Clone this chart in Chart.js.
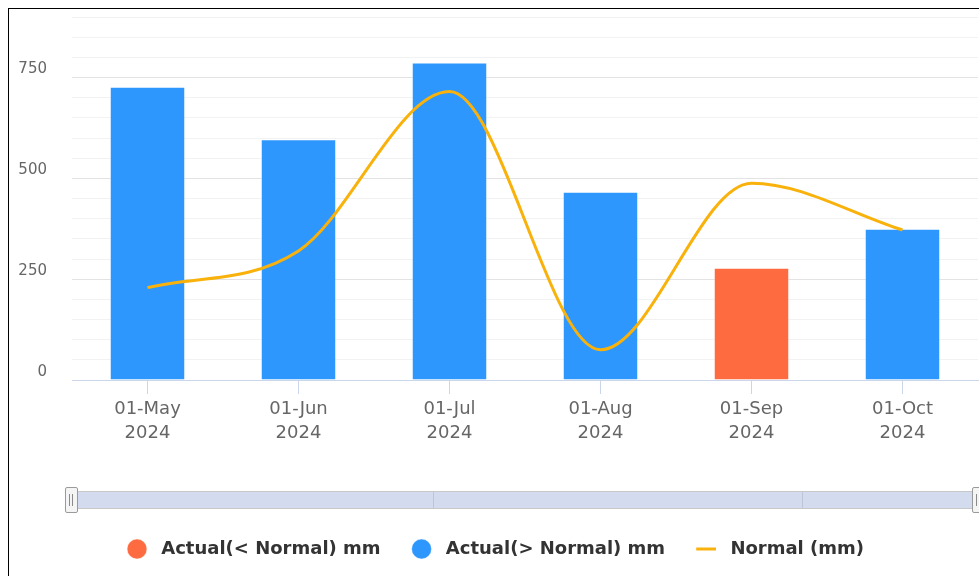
<!DOCTYPE html>
<html>
<head>
<meta charset="utf-8">
<script src="https://cdn.jsdelivr.net/npm/chart.js@4.4.1/dist/chart.umd.min.js"></script>
<style>
    html, body { margin: 0; padding: 0; background: #ffffff; }
    #wrap { position: relative; width: 979px; height: 576px; overflow: hidden; }
    #frame { position: absolute; left: 8px; top: 8px; width: 1000px; height: 600px; border: 1px solid #000; }
    .nav-track { position: absolute; left: 72px; top: 491px; width: 907px; height: 16px;
        background: #d3dcee; border-top: 1px solid #c8c8c8; border-bottom: 1px solid #c8c8c8; }
    .nav-div { position: absolute; top: 0; width: 1px; height: 16px; background: #bcc5da; }
    .nav-handle { position: absolute; top: 487px; width: 11px; height: 24px; background: #f4f4f4;
        border: 1px solid #9a9a9a; border-radius: 2px; }
    .nav-handle::before, .nav-handle::after { content: ''; position: absolute; top: 6px; width: 1px; height: 12px; background: #8a8a8a; }
    .nav-handle::before { left: 3px; }
    .nav-handle::after { left: 6px; }
</style>
</head>
<body>
<div id="wrap">
    <canvas id="rainChart"></canvas>
    <div id="frame"></div>
    <div class="nav-track">
        <div class="nav-div" style="left: 361px;"></div>
        <div class="nav-div" style="left: 730px;"></div>
    </div>
    <div class="nav-handle" style="left: 65px;"></div>
    <div class="nav-handle" style="left: 972px;"></div>
</div>
<script>
// --- Dados ---
const months = ['01-May', '01-Jun', '01-Jul', '01-Aug', '01-Sep', '01-Oct'];
const years = ['2024', '2024', '2024', '2024', '2024', '2024'];
const actualMm = [727, 597, 787, 467, 278, 375];
const normalMm = [229, 320, 715, 75, 488, 372];

// split actual values into below / above normal
const belowNormal = actualMm.map((v, i) => v < normalMm[i] ? v : null);
const aboveNormal = actualMm.map((v, i) => v >= normalMm[i] ? v : null);

Chart.defaults.font.family = '"DejaVu Sans", sans-serif';
Chart.defaults.color = '#666666';

// legend sits a little right of centre in the original
const legendShift = {
    id: 'legendShift',
    afterLayout(chart) {
        chart.legend.left += 7;
        chart.legend.right += 7;
    }
};

const ctx = document.getElementById('rainChart').getContext('2d');
const rainChart = new Chart(ctx, {
    type: 'bar',
    data: {
        labels: months.map((m, i) => [m, years[i]]),
        datasets: [{
            label: 'Actual(< Normal) mm',
            data: belowNormal,
            backgroundColor: '#fe6b40',
            borderColor: 'rgba(255,255,255,0.35)',
            borderWidth: 1,
            categoryPercentage: 1,
            barPercentage: 0.5,
            order: 1
        }, {
            label: 'Actual(> Normal) mm',
            data: aboveNormal,
            backgroundColor: '#2e97fd',
            borderColor: 'rgba(255,255,255,0.35)',
            borderWidth: 1,
            categoryPercentage: 1,
            barPercentage: 0.5,
            order: 1
        }, {
            type: 'line',
            label: 'Normal (mm)',
            data: normalMm,
            borderColor: '#f9b20c',
            backgroundColor: '#f9b20c',
            borderWidth: 3,
            pointRadius: 0,
            pointStyle: 'line',
            cubicInterpolationMode: 'monotone',
            fill: false,
            order: 0
        }]
    },
    options: {
        responsive: true,
        maintainAspectRatio: false,
        animation: false,
        layout: { padding: { top: 17, right: 1, left: 0, bottom: 8 } },
        plugins: {
            tooltip: { enabled: false },
            legend: {
                position: 'bottom',
                labels: {
                    usePointStyle: true,
                    boxHeight: 14,
                    padding: 32,
                    color: '#333333',
                    font: { size: 18, weight: 'bold' },
                    sort: (a, b) => a.datasetIndex - b.datasetIndex,
                    // small gap between symbol and text, like the original
                    generateLabels: (chart) => Chart.defaults.plugins.legend.labels.generateLabels(chart)
                        .map(l => ({ ...l, text: ' ' + l.text }))
                }
            }
        },
        scales: {
            x: {
                stacked: true,
                border: { color: '#ccd6eb', width: 1 },
                grid: { drawOnChartArea: false, drawTicks: true, tickLength: 14, color: '#ccd6eb', offset: false },
                ticks: { font: { size: 18, lineHeight: 1.333 }, padding: 3, maxRotation: 0 },
                afterFit: (scale) => {
                    // keep the plot bottom at the same place as the original
                    scale.height = scale.chart.height - 8 - scale.chart.legend.height - 380;
                }
            },
            y: {
                min: 0,
                max: 900,
                border: { display: false },
                grid: {
                    drawTicks: false,
                    color: (c) => c.tick && c.tick.value % 250 === 0 ? '#e3e3e3' : '#f2f2f2'
                },
                ticks: {
                    stepSize: 50,
                    maxTicksLimit: 20,
                    autoSkip: false,
                    padding: 25,
                    labelOffset: -8,
                    font: { size: 15 },
                    callback: (v) => v % 250 === 0 ? v : ''
                },
                afterFit: (scale) => {
                    scale.width = 72;
                    scale.paddingTop = 0;
                    scale.paddingBottom = 0;
                }
            }
        }
    },
    plugins: [legendShift]
});
</script>
</body>
</html>
